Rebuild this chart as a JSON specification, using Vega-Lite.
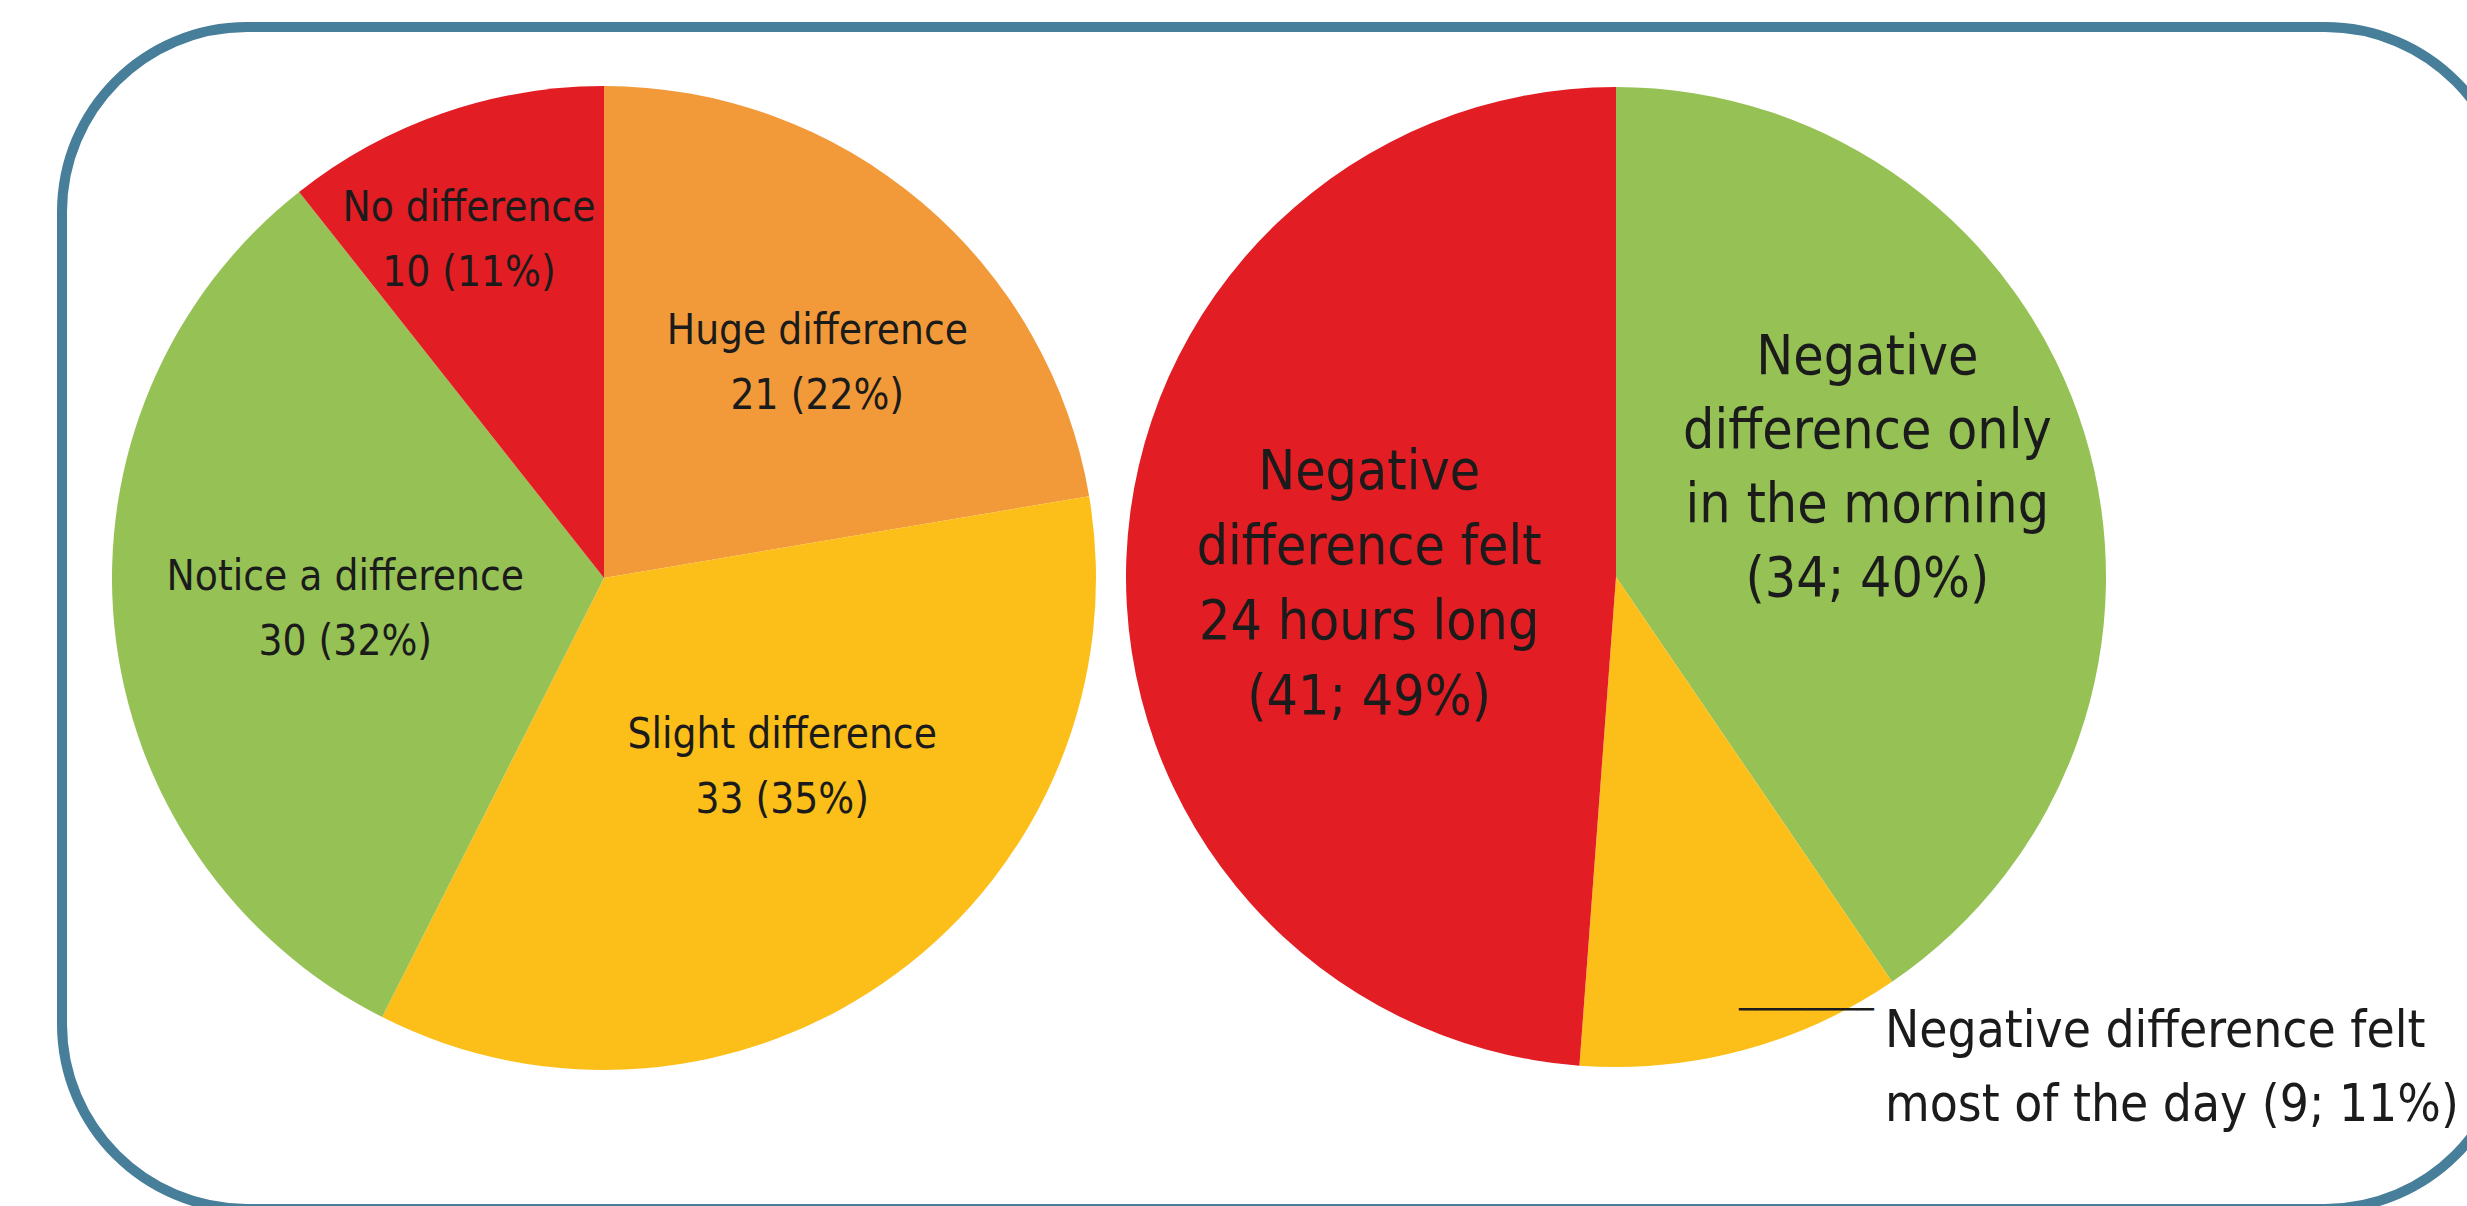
{
  "$schema": "https://vega.github.io/schema/vega-lite/v6.json",
  "width": 2467,
  "height": 1206,
  "autosize": {"type": "fit", "contains": "padding"},
  "padding": {"left": 62, "top": 27, "right": -43, "bottom": -3},
  "background": "white",
  "config": {
    "view": {"stroke": "#477E99", "strokeWidth": 10, "cornerRadius": 185},
    "text": {"font": "Liberation Sans Narrow, DejaVu Sans Condensed, sans-serif", "color": "#1b1b1b", "lineBreak": "\n"}
  },
  "data": {
    "values": [
      {"chart": "A", "ord": 1, "category": "Huge difference", "n": 21, "label": "Huge difference\n21 (22%)"},
      {"chart": "A", "ord": 2, "category": "Slight difference", "n": 33, "label": "Slight difference\n33 (35%)"},
      {"chart": "A", "ord": 3, "category": "Notice a difference", "n": 30, "label": "Notice a difference\n30 (32%)"},
      {"chart": "A", "ord": 4, "category": "No difference", "n": 10, "label": "No difference\n10 (11%)"},
      {"chart": "B", "ord": 1, "category": "Negative difference only in the morning", "n": 34, "label": "Negative\ndifference only\nin the morning\n(34; 40%)"},
      {"chart": "B", "ord": 2, "category": "Negative difference felt most of the day", "n": 9, "label": "Negative difference felt\nmost of the day (9; 11%)"},
      {"chart": "B", "ord": 3, "category": "Negative difference felt 24 hours long", "n": 41, "label": "Negative\ndifference felt\n24 hours long\n(41; 49%)"}
    ]
  },
  "resolve": {"scale": {"theta": "independent"}},
  "layer": [
    {
      "transform": [{"filter": "datum.chart === 'A'"}],
      "encoding": {
        "theta": {"field": "n", "type": "quantitative", "stack": true},
        "order": {"field": "ord", "type": "quantitative"},
        "detail": {"field": "category", "type": "nominal"},
        "x": {"field": "chart", "type": "nominal", "axis": null, "scale": {"type": "point", "domain": ["A", "B"], "range": [542, 1554], "padding": 0}},
        "y": {"field": "chart", "type": "nominal", "axis": null, "scale": {"type": "point", "domain": ["A", "B"], "range": [551, 550], "padding": 0}}
      },
      "layer": [
        {
          "mark": {"type": "arc", "outerRadius": 492},
          "encoding": {
            "color": {"field": "category", "type": "nominal", "legend": null,
              "scale": {"domain": ["Huge difference", "Slight difference", "Notice a difference", "No difference", "Negative difference only in the morning", "Negative difference felt most of the day", "Negative difference felt 24 hours long"],
                        "range": ["#F29A39", "#FCBF1A", "#96C155", "#E21D24", "#96C155", "#FCBF1A", "#E21D24"]}}
          }
        },
        {
          "mark": {"type": "text", "radius": 301, "dx": 19, "dy": -17, "fontSize": 42, "lineHeight": 65, "align": "center", "baseline": "middle"},
          "encoding": {"text": {"condition": {"test": "datum.ord === 1", "field": "label", "type": "nominal"}, "value": ""}}
        },
        {
          "mark": {"type": "text", "radius": 260, "dx": 24, "dy": -52, "fontSize": 42, "lineHeight": 65, "align": "center", "baseline": "middle"},
          "encoding": {"text": {"condition": {"test": "datum.ord === 2", "field": "label", "type": "nominal"}, "value": ""}}
        },
        {
          "mark": {"type": "text", "radius": 262, "dx": 2, "dy": -27, "fontSize": 42, "lineHeight": 65, "align": "center", "baseline": "middle"},
          "encoding": {"text": {"condition": {"test": "datum.ord === 3", "field": "label", "type": "nominal"}, "value": ""}}
        },
        {
          "mark": {"type": "text", "radius": 357, "dx": -18, "dy": -33, "fontSize": 42, "lineHeight": 65, "align": "center", "baseline": "middle"},
          "encoding": {"text": {"condition": {"test": "datum.ord === 4", "field": "label", "type": "nominal"}, "value": ""}}
        }
      ]
    },
    {
      "transform": [{"filter": "datum.chart === 'B'"}],
      "encoding": {
        "theta": {"field": "n", "type": "quantitative", "stack": true},
        "order": {"field": "ord", "type": "quantitative"},
        "detail": {"field": "category", "type": "nominal"},
        "x": {"field": "chart", "type": "nominal", "axis": null, "scale": {"type": "point", "domain": ["A", "B"], "range": [542, 1554], "padding": 0}},
        "y": {"field": "chart", "type": "nominal", "axis": null, "scale": {"type": "point", "domain": ["A", "B"], "range": [551, 550], "padding": 0}}
      },
      "layer": [
        {
          "mark": {"type": "arc", "outerRadius": 490},
          "encoding": {
            "color": {"field": "category", "type": "nominal", "legend": null}
          }
        },
        {
          "mark": {"type": "text", "radius": 262, "dx": 1, "dy": -143, "fontSize": 55, "lineHeight": 74, "align": "center", "baseline": "middle"},
          "encoding": {"text": {"condition": {"test": "datum.ord === 1", "field": "label", "type": "nominal"}, "value": ""}}
        },
        {
          "mark": {"type": "text", "radius": 247, "dx": 0, "dy": -96, "fontSize": 55, "lineHeight": 75, "align": "center", "baseline": "middle"},
          "encoding": {"text": {"condition": {"test": "datum.ord === 3", "field": "label", "type": "nominal"}, "value": ""}}
        },
        {
          "mark": {"type": "text", "radius": 452, "dx": 152, "dy": 33, "fontSize": 51, "lineHeight": 74, "align": "left", "baseline": "alphabetic"},
          "encoding": {"text": {"condition": {"test": "datum.ord === 2", "field": "label", "type": "nominal"}, "value": ""}}
        },
        {
          "mark": {"type": "text", "radius": 452, "dx": 6, "dy": -3, "fontSize": 28, "font": "DejaVu Sans", "align": "left", "baseline": "middle"},
          "encoding": {"text": {"condition": {"test": "datum.ord === 2", "value": "────────"}, "value": ""}}
        }
      ]
    }
  ]
}
